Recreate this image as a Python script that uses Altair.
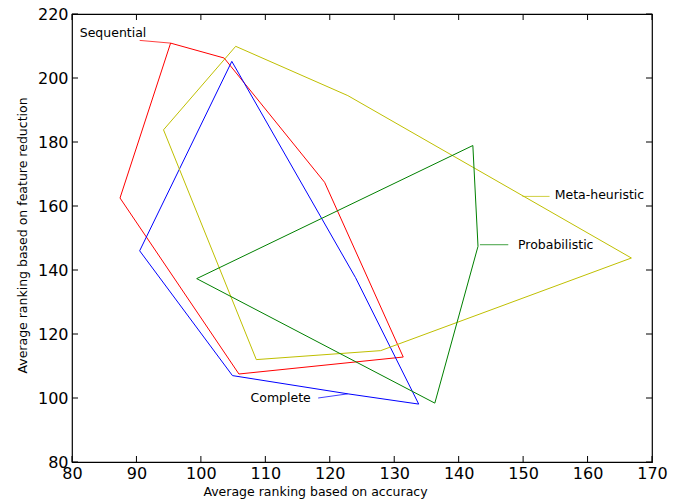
import altair as alt
import pandas as pd

# ---- data ----
series_names = ["Sequential", "Complete", "Meta-heuristic", "Probabilistic"]
series_colors = ["#ff0000", "#0000ff", "#bfbf00", "#008000"]

seq_x = [95.3, 103.6, 119.2, 131.4, 105.9, 87.45, 95.3]
seq_y = [210.9, 206.25, 167.4, 112.8, 107.5, 162.5, 210.9]

com_x = [104.8, 124.0, 133.8, 122.8, 104.9, 90.5, 104.8]
com_y = [205.2, 137.6, 98.1, 101.3, 107.0, 146.0, 205.2]

met_x = [105.4, 122.8, 166.8, 127.9, 108.6, 94.2, 105.4]
met_y = [209.9, 194.5, 143.75, 114.8, 112.0, 183.8, 209.9]

pro_x = [99.35, 142.2, 143.0, 136.3, 99.35]
pro_y = [137.3, 178.9, 147.4, 98.4, 137.3]

# annotation labels (left edge of text, vertical middle)
label_x = [81.2, 107.7, 154.9, 149.2]
label_y = [214.1, 100.0, 163.3, 147.9]

# leader lines from label to curve
lead_x1 = [90.5, 118.2, 149.9, 143.3]
lead_y1 = [211.75, 100.0, 163.0, 147.9]
lead_x2 = [95.3, 122.8, 154.1, 147.7]
lead_y2 = [210.9, 101.3, 163.0, 147.9]

x_ticks = [80, 90, 100, 110, 120, 130, 140, 150, 160, 170]
y_ticks = [80, 100, 120, 140, 160, 180, 200, 220]

x_title = "Average ranking based on accuracy"
y_title = "Average ranking based on feature reduction"

# ---- tables ----
rows = []
for name, xs, ys in zip(series_names, [seq_x, com_x, met_x, pro_x], [seq_y, com_y, met_y, pro_y]):
    for i, (xv, yv) in enumerate(zip(xs, ys)):
        rows.append({"series": name, "x": xv, "y": yv, "order": i})
df = pd.DataFrame(rows)

labels = pd.DataFrame({"series": series_names, "x": label_x, "y": label_y})
leaders = pd.DataFrame({"series": series_names, "x": lead_x1, "y": lead_y1,
                        "x2": lead_x2, "y2": lead_y2})
xt = pd.DataFrame({"v": x_ticks})
yt = pd.DataFrame({"v": y_ticks})

W, H = 580, 448
xscale = alt.Scale(domain=[80, 170], nice=False, zero=False)
yscale = alt.Scale(domain=[80, 220], nice=False, zero=False)
cscale = alt.Scale(domain=series_names, range=series_colors)

xaxis = alt.Axis(values=x_ticks, title=x_title, labelFlush=False, labelPadding=3,
                 titleX=243, titleY=33, titleBaseline="alphabetic", titleAlign="center")
yaxis = alt.Axis(values=y_ticks, title=y_title, labelFlush=False, labelPadding=4,
                 titleX=-50, titleY=221, titleBaseline="middle", titleAngle=-90,
                 titleAlign="center")

lines = alt.Chart(df).mark_line(strokeWidth=1).encode(
    x=alt.X("x:Q", scale=xscale, axis=xaxis),
    y=alt.Y("y:Q", scale=yscale, axis=yaxis),
    color=alt.Color("series:N", scale=cscale, legend=None),
    order="order:Q",
)

lead = alt.Chart(leaders).mark_rule(strokeWidth=1, opacity=0.75).encode(
    x=alt.X("x:Q", scale=xscale), y=alt.Y("y:Q", scale=yscale),
    x2="x2:Q", y2="y2:Q",
    color=alt.Color("series:N", scale=cscale, legend=None),
)

text = alt.Chart(labels).mark_text(align="left", baseline="middle", font="DejaVu Sans",
                                   fontSize=12.5, color="black").encode(
    x=alt.X("x:Q", scale=xscale), y=alt.Y("y:Q", scale=yscale), text="series:N"
)

tk = 6
tick_bottom = alt.Chart(xt).mark_rule(color="black", strokeWidth=1).encode(
    x=alt.X("v:Q", scale=xscale), y=alt.value(H), y2=alt.value(H - tk))
tick_top = alt.Chart(xt).mark_rule(color="black", strokeWidth=1).encode(
    x=alt.X("v:Q", scale=xscale), y=alt.value(0), y2=alt.value(tk))
tick_left = alt.Chart(yt).mark_rule(color="black", strokeWidth=1).encode(
    y=alt.Y("v:Q", scale=yscale), x=alt.value(0), x2=alt.value(tk))
tick_right = alt.Chart(yt).mark_rule(color="black", strokeWidth=1).encode(
    y=alt.Y("v:Q", scale=yscale), x=alt.value(W), x2=alt.value(W - tk))

chart = alt.layer(lines, lead, text, tick_bottom, tick_top, tick_left, tick_right).properties(
    width=W, height=H,
    autosize=alt.AutoSizeParams(type="none"),
    padding={"left": 64, "top": 6, "right": 26, "bottom": 42},
).configure_view(stroke="black", strokeWidth=1.2).configure_axis(
    grid=False, domain=False, ticks=False,
    labelFont="DejaVu Sans", labelFontSize=16, labelColor="black",
    titleFont="DejaVu Sans", titleFontSize=12.5, titleFontWeight="normal", titleColor="black",
)

chart.save("out.html", embed_options={"renderer": "svg", "actions": False})
